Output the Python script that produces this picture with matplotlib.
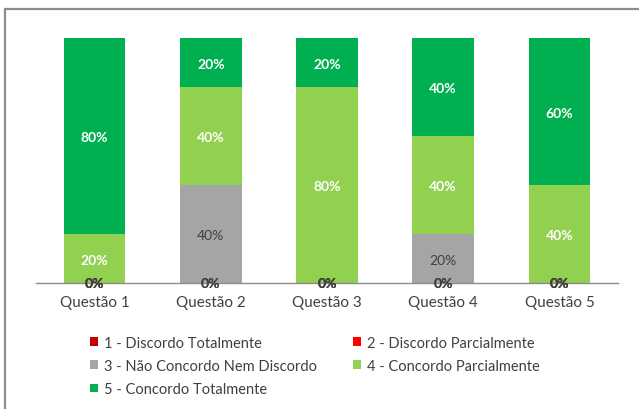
import matplotlib.pyplot as plt
from matplotlib.patches import Rectangle, Patch
import numpy as np

plt.rcParams['font.family'] = ['Lato', 'DejaVu Sans']

questions = ["Questão 1", "Questão 2", "Questão 3", "Questão 4", "Questão 5"]
series_names = [
    "1 - Discordo Totalmente",
    "2 - Discordo Parcialmente",
    "3 - Não Concordo Nem Discordo",
    "4 - Concordo Parcialmente",
    "5 - Concordo Totalmente",
]
discordo_total = [0, 0, 0, 0, 0]
discordo_parcial = [0, 0, 0, 0, 0]
neutro = [0, 40, 0, 20, 0]
concordo_parcial = [20, 40, 80, 40, 40]
concordo_total = [80, 20, 20, 40, 60]

colors = ["#C00000", "#FF0000", "#A5A5A5", "#92D050", "#00B050"]
label_colors = ["#404040", "#404040", "#404040", "white", "white"]

fig = plt.figure(figsize=(6.39, 4.10), dpi=100)
ax = fig.add_axes([36.5 / 639, 1 - 284 / 410, 581 / 639, 245 / 410])

# outer chart border (cut off on right and bottom like the source)
fig.patches.append(Rectangle((5 / 639, -0.1), 1.2, 1 - 10 / 410 + 0.1,
                             transform=fig.transFigure, fill=False,
                             edgecolor="#8C8C8C", linewidth=1.6, zorder=0))

x = np.arange(len(questions))
bottom = np.zeros(len(questions))
data = [discordo_total, discordo_parcial, neutro, concordo_parcial, concordo_total]
handles = []
for vals, name, col, lcol in zip(data, series_names, colors, label_colors):
    vals = np.array(vals, dtype=float)
    ax.bar(x, vals, 0.53, bottom=bottom, color=col, label=name)
    for xi, v, b in zip(x, vals, bottom):
        ypos = b + v / 2 if v > 0 else b + 0.4
        weight = "bold" if lcol == "white" or v == 0 else "normal"
        ax.text(xi, ypos - 0.6, f"{v:.0f}%", ha="center", va="center",
                color=lcol, fontsize=10, fontweight=weight)
    bottom += vals
    handles.append(Patch(facecolor=col, label=name))

ax.set_xlim(-0.5, len(questions) - 0.5)
ax.set_ylim(0, 100)
ax.set_xticks(x)
ax.set_xticklabels(questions, fontsize=11, color="#404040")
ax.tick_params(axis="x", length=0, pad=8.5)
ax.set_yticks([])
for s in ["top", "right", "left"]:
    ax.spines[s].set_visible(False)
ax.spines["bottom"].set_color("#8C8C8C")
ax.spines["bottom"].set_linewidth(1.0)

order = [0, 2, 4, 1, 3]
fig.legend([handles[i] for i in order], [series_names[i] for i in order],
           loc="upper left", bbox_to_anchor=(90 / 639, 1 - 337 / 410),
           ncol=2, frameon=False, fontsize=10.5, handlelength=0.55,
           handleheight=0.55, handletextpad=0.4, columnspacing=2.5,
           labelspacing=0.62, labelcolor="#404040", borderaxespad=0,
           borderpad=0)

fig.savefig("out.png", dpi=100)
